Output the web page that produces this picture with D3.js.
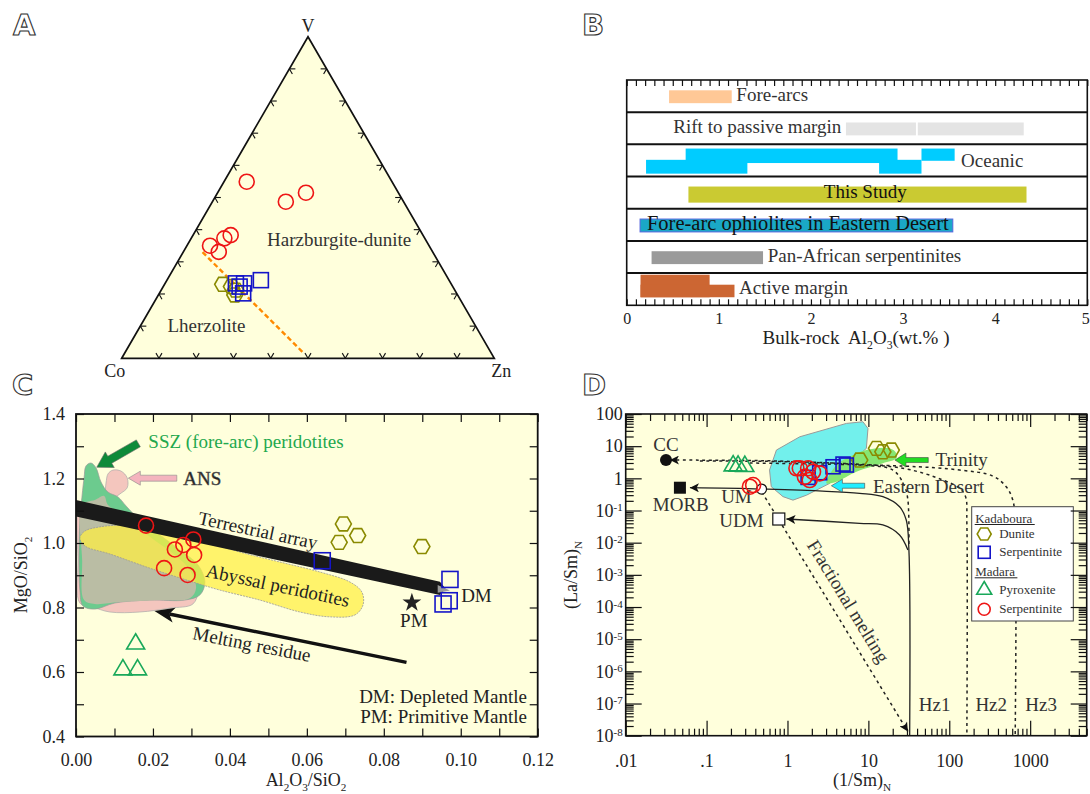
<!DOCTYPE html>
<html>
<head>
<meta charset="utf-8">
<title>Figure</title>
<script src="https://cdn.jsdelivr.net/npm/d3@7/dist/d3.min.js"></script>
<style>
html,body{margin:0;padding:0;background:#fff;}
svg{display:block;}
</style>
</head>
<body>
<svg id="fig" width="1090" height="794" xmlns="http://www.w3.org/2000/svg"></svg>
<script>
// ======================= DATA =======================
// ---- Panel A : ternary Co–V–Zn, values as [Co, V, Zn] (%) ----
const aMadaraSerpentinite = [[39.0,54.9,6.1],[31.6,48.7,19.7],[24.8,51.5,23.7],[51.6,38.3,10.1],[53.8,37.3,8.9],[58.8,35.0,6.2],[57.4,33.1,9.5]];
const aKadabouraSerpentinite = [[50.5,24.3,25.2],[55.5,23.3,21.2],[57.2,22.3,20.5],[57.3,20.2,22.5],[57.7,23.3,19.0]];
const aKadabouraDunite = [[61.4,23.0,15.6],[59.4,22.3,18.3],[59.8,19.7,20.5],[58.8,21.2,20.0]];
const aDivider = [[61.8,33.0,5.2],[50.5,2.0,47.5]];
const aTicks = [10,20,30,40,50,60,70,80,90];
const aFieldLabels = [{text:"Harzburgite-dunite", p:[24.2,34.9,40.9]},{text:"Lherzolite", p:[73.1,8.3,18.6]}];

// ---- Panel B : bulk-rock Al2O3 ranges (wt.%) ----
const bCategories = ["Fore-arcs","Rift to passive margin","Oceanic","This Study","Fore-arc ophiolites in Eastern Desert","Pan-African serpentinites","Active margin"];
const bRanges = [
  {cat:"Fore-arcs", from:0.46, to:1.14, lane:"mid"},
  {cat:"Rift to passive margin", from:2.38, to:3.14, lane:"mid"},
  {cat:"Rift to passive margin", from:3.16, to:4.31, lane:"mid"},
  {cat:"Oceanic", from:0.21, to:1.31, lane:"lower"},
  {cat:"Oceanic", from:2.74, to:3.20, lane:"lower"},
  {cat:"Oceanic", from:0.64, to:2.94, lane:"upper"},
  {cat:"Oceanic", from:3.20, to:3.56, lane:"upperShort"},
  {cat:"This Study", from:0.67, to:4.34, lane:"wide"},
  {cat:"Fore-arc ophiolites in Eastern Desert", from:0.145, to:3.54, lane:"mid"},
  {cat:"Pan-African serpentinites", from:0.27, to:1.48, lane:"mid"},
  {cat:"Active margin", from:0.15, to:0.90, lane:"tall"},
  {cat:"Active margin", from:0.15, to:1.17, lane:"low"}
];
const bLabels = [
  {cat:"Fore-arcs", x:1.19, anchor:"start"},
  {cat:"Rift to passive margin", x:2.33, anchor:"end"},
  {cat:"Oceanic", x:3.63, anchor:"start"},
  {cat:"This Study", x:2.59, anchor:"middle"},
  {cat:"Fore-arc ophiolites in Eastern Desert", x:0.22, anchor:"start"},
  {cat:"Pan-African serpentinites", x:1.53, anchor:"start"},
  {cat:"Active margin", x:1.22, anchor:"start"}
];
const bTickLabels = [0,1,2,3,4,5];

// ---- Panel C : MgO/SiO2 vs Al2O3/SiO2 ----
const cMadaraSerpentinite = [[0.0182,1.054],[0.0305,1.011],[0.0279,0.994],[0.0257,0.980],[0.0307,0.963],[0.0229,0.922],[0.0290,0.901]];
const cMadaraPyroxenite = [[0.0122,0.607],[0.0160,0.607],[0.0155,0.687]];
const cKadabouraDunite = [[0.0695,1.059],[0.0732,1.023],[0.0684,1.002],[0.0899,0.989]];
const cKadabouraSerpentinite = [[0.0640,0.945],[0.0972,0.887],[0.0970,0.821],[0.0954,0.811]];
const cPrimitiveMantle = [0.0873,0.815];
const cFieldSSZ = [[0.0021,1.202],[0.0026,1.239],[0.0039,1.248],[0.0052,1.233],[0.0065,1.189],[0.0083,1.158],[0.0109,1.143],[0.0130,1.115],[0.0166,1.071],[0.0218,1.025],[0.0270,0.978],[0.0317,0.932],[0.0335,0.879],[0.0322,0.839],[0.0283,0.823],[0.0192,0.823],[0.0101,0.814],[0.0049,0.795],[0.0018,0.805],[0.0010,0.854],[0.0010,1.071],[0.0016,1.149]];
const cFieldANS = [[0.0008,1.118],[0.0023,1.133],[0.0055,1.140],[0.0073,1.152],[0.0078,1.186],[0.0083,1.214],[0.0096,1.226],[0.0117,1.223],[0.0133,1.202],[0.0133,1.171],[0.0114,1.152],[0.0094,1.133],[0.0088,1.115],[0.0120,1.087],[0.0192,1.016],[0.0257,0.960],[0.0301,0.910],[0.0317,0.854],[0.0304,0.811],[0.0244,0.798],[0.0166,0.786],[0.0088,0.786],[0.0042,0.802],[0.0010,0.814],[0.0005,0.947]];
const cFieldOverlap = [[0.0016,1.118],[0.0049,1.133],[0.0073,1.146],[0.0083,1.118],[0.0127,1.084],[0.0192,1.019],[0.0257,0.963],[0.0296,0.916],[0.0312,0.860],[0.0296,0.829],[0.0218,0.823],[0.0114,0.817],[0.0049,0.811],[0.0021,0.823],[0.0016,0.947]];
const cFieldAbyssal = [[0.0010,1.016],[0.0023,1.037],[0.0062,1.050],[0.0140,1.056],[0.0218,1.050],[0.0283,1.031],[0.0335,1.006],[0.0426,0.972],[0.0530,0.941],[0.0634,0.910],[0.0712,0.879],[0.0743,0.848],[0.0746,0.808],[0.0725,0.777],[0.0660,0.771],[0.0582,0.786],[0.0478,0.823],[0.0374,0.854],[0.0296,0.882],[0.0192,0.922],[0.0088,0.966],[0.0023,0.991]];
const cTerrestrialArray = [[0,1.133],[0.0946,0.880],[0.0960,0.859],[0.0946,0.839],[0,1.082]];
const cArrayTip = [[0.0940,0.870],[0.0972,0.853],[0.0940,0.846]];
const cMeltingResidue = [[0.0859,0.630],[0.0204,0.789]];
const cArrowSSZ = [[0.0162,1.309],[0.0054,1.235]];
const cArrowANS = [[0.0262,1.201],[0.0136,1.201]];
const cLabels = [
  {text:"SSZ (fore-arc) peridotites", p:[0.0188,1.294], anchor:"start", fill:"#22A84E"},
  {text:"ANS", p:[0.0279,1.180], anchor:"start", ans:true},
  {text:"Terrestrial array", p:[0.0315,1.059], anchor:"start", rot:12},
  {text:"Abyssal peridotites", p:[0.0335,0.896], anchor:"start", rot:12},
  {text:"Melting residue", p:[0.0301,0.702], anchor:"start", rot:11},
  {text:"DM", p:[0.1001,0.817], anchor:"start"},
  {text:"PM", p:[0.0878,0.740], anchor:"middle"},
  {text:"DM: Depleted Mantle", p:[0.1172,0.503], anchor:"end"},
  {text:"PM: Primitive Mantle", p:[0.1172,0.443], anchor:"end"}
];

// ---- Panel D : (La/Sm)N vs (1/Sm)N ----
const dMadaraSerpentinite = [[1.42,2.05],[1.80,2.05],[2.07,1.60],[1.64,1.12],[2.50,1.43],[1.88,0.885],[1.29,2.05],[0.376,0.62],[0.343,0.548]];
const dMadaraPyroxenite = [[0.213,2.45],[0.245,2.41],[0.297,2.35]];
const dKadabouraSerpentinite = [[1.80,1.07],[2.50,1.49],[3.66,2.29],[4.86,2.78],[5.35,2.59]];
const dKadabouraDunite = [[7.81,3.70],[12.6,8.55],[15.1,6.70],[19.2,7.57]];
const dCC = [0.0315,3.70], dMORB = [0.0468,0.511], dUM = [0.478,0.465], dUDM = [0.781,0.0544];
const dFieldEasternDesert = [[0.60,1.81],[0.73,7.57],[1.42,19.6],[5.35,51.0],[8.57,57.3],[9.89,35.7],[9.44,8.55],[5.87,2.92],[3.33,0.70],[1.72,0.30],[1.17,0.21],[0.88,0.27],[0.63,0.55]];
const dFieldTrinity = [[3.03,0.70],[4.03,2.59],[5.87,4.69],[9.44,7.57],[18.3,8.55],[22.2,5.97],[22.2,4.18],[15.1,2.92],[7.11,1.60],[4.03,0.78]];
const dLineToCC = [[0.0352,3.70],[0.803,3.44],[7.81,2.59],[20.1,1.81],[28.1,0.548],[30.8,0.212],[31.7,0.0075]];
const dLineHz12 = [[0.0826,3.44],[1.42,3.21],[26.7,2.05],[83.4,0.885],[134,0.489],[159,0.269],[165,0.041],[165,1e-8]];
const dLineHz23 = [[0.343,2.99],[26.7,2.41],[134,1.81],[345,1.18],[506,0.548],[610,0.212],[653,0.041],[653,1e-8]];
const dLineToMORB = [[0.0622,0.511],[0.478,0.465],[7.81,0.342],[15.1,0.269],[24.3,0.131],[29.4,0.0507],[31.7,0.00593],[32.4,1e-8]];
const dLineToUDM = [[0.97,0.0544],[7.81,0.040],[15.1,0.0355],[24.3,0.0173],[30.8,0.00593]];
const dFractionalMelting = [[0.482,0.376],[30.8,1.35e-8]];
const dArrowTrinity = [[55.0,3.70],[21.3,3.70]];
const dArrowEastern = [[9.0,0.589],[3.49,0.589]];
const dLabels = [
  {text:"CC", p:[0.0315,7.05], anchor:"middle"},
  {text:"MORB", p:[0.048,0.0965], anchor:"middle"},
  {text:"UM", p:[0.234,0.171], anchor:"middle"},
  {text:"UDM", p:[0.27,0.0307], anchor:"middle"},
  {text:"Trinity", p:[67.8,2.41], anchor:"start"},
  {text:"Eastern Desert", p:[11.4,0.349], anchor:"start"},
  {text:"Hz1", p:[65.9,5.93e-8], anchor:"middle"},
  {text:"Hz2", p:[330,5.93e-8], anchor:"middle"},
  {text:"Hz3", p:[1368,5.93e-8], anchor:"middle"}
];
const dXTickLabels = [0.01,0.1,1,10,100,1000];
const dYTickLabels = [1e-8,1e-7,1e-6,1e-5,1e-4,1e-3,1e-2,1e-1,1,10,100];
const legendGroups = [
  {title:"Kadaboura", items:[{sym:"hex", label:"Dunite"},{sym:"square", label:"Serpentinite"}]},
  {title:"Madara", items:[{sym:"tri", label:"Pyroxenite"},{sym:"circle", label:"Serpentinite"}]}
];

// ======================= DRAWING =======================
const SERIF = '"Liberation Serif","Times New Roman",Times,serif';
const INK = "#222";
const CREAM = "#FFFFDC";
const COL = {circle:"#EE1515", square:"#1414C8", hex:"#8A8A00", tri:"#19A85A"};
const svg = d3.select("#fig");

function txt(g, x, y, s, size, o = {}) {
  const t = g.append("text").attr("x", x).attr("y", y).attr("font-family", SERIF)
    .attr("font-size", size).attr("fill", o.fill || INK).attr("text-anchor", o.anchor || "start").text(s);
  if (o.rot != null) t.attr("transform", `rotate(${o.rot},${x},${y})`);
  return t;
}
function rich(g, x, y, parts, size, o = {}) {
  const t = g.append("text").attr("x", x).attr("y", y).attr("font-family", SERIF)
    .attr("font-size", size).attr("fill", o.fill || INK).attr("text-anchor", o.anchor || "middle")
    .style("white-space", "pre");
  let shift = 0;
  parts.forEach(([s, k]) => {
    const target = k === "sub" ? size * 0.25 : k === "sup" ? -size * 0.4 : 0;
    t.append("tspan").attr("dy", target - shift).attr("font-size", k ? size * 0.62 : size).text(s);
    shift = target;
  });
  if (o.rot != null) t.attr("transform", `rotate(${o.rot},${x},${y})`);
  return t;
}
function hexPath(x, y, r) {
  const pts = d3.range(6).map(i => [x + r * Math.cos(i * Math.PI / 3), y + r * Math.sin(i * Math.PI / 3)]);
  return "M" + pts.map(p => p.join(",")).join("L") + "Z";
}
function triPath(x, y, w, h) {
  return `M${x},${y - 2 * h / 3}L${x + w / 2},${y + h / 3}L${x - w / 2},${y + h / 3}Z`;
}
function marker(g, type, x, y, s) {
  const sw = 1.6;
  if (type === "circle") g.append("circle").attr("cx", x).attr("cy", y).attr("r", s / 2).attr("fill", "none").attr("stroke", COL.circle).attr("stroke-width", sw);
  else if (type === "square") g.append("rect").attr("x", x - s / 2).attr("y", y - s / 2).attr("width", s).attr("height", s).attr("fill", "none").attr("stroke", COL.square).attr("stroke-width", sw);
  else if (type === "hex") g.append("path").attr("d", hexPath(x, y, s / 2)).attr("fill", "none").attr("stroke", COL.hex).attr("stroke-width", sw);
  else if (type === "tri") g.append("path").attr("d", triPath(x, y, s, s * 0.85)).attr("fill", "none").attr("stroke", COL.tri).attr("stroke-width", sw);
}
function blockArrow(p0, p1, bodyHalf, headHalf, headLen) {
  const dx = p1[0] - p0[0], dy = p1[1] - p0[1], L = Math.hypot(dx, dy);
  const ux = dx / L, uy = dy / L, nx = -uy, ny = ux;
  const b = [p1[0] - ux * headLen, p1[1] - uy * headLen];
  const pts = [[p0[0] + nx * bodyHalf, p0[1] + ny * bodyHalf], [b[0] + nx * bodyHalf, b[1] + ny * bodyHalf],
    [b[0] + nx * headHalf, b[1] + ny * headHalf], p1, [b[0] - nx * headHalf, b[1] - ny * headHalf],
    [b[0] - nx * bodyHalf, b[1] - ny * bodyHalf], [p0[0] - nx * bodyHalf, p0[1] - ny * bodyHalf]];
  return "M" + pts.map(p => p.join(",")).join("L") + "Z";
}
function styleAxis(g, size) {
  g.select(".domain").remove();
  g.attr("font-family", SERIF).attr("font-size", size);
  g.selectAll(".tick line").attr("stroke", "#111").attr("stroke-width", 1.2);
  g.selectAll(".tick text").attr("fill", INK);
}
function panelLetter(x, y, s) {
  svg.append("text").attr("x", x).attr("y", y).attr("font-family", "'DejaVu Sans',Arial,sans-serif")
    .attr("font-weight", "bold").attr("font-size", 29).attr("fill", "#fff").attr("stroke", "#333").attr("stroke-width", 1.1).text(s);
}
panelLetter(13, 35, "A"); panelLetter(582, 35, "B"); panelLetter(12, 395, "C"); panelLetter(582, 395, "D");

// arrow marker defs
const defs = svg.append("defs");
defs.append("marker").attr("id", "ah").attr("viewBox", "0 0 10 10").attr("refX", 10).attr("refY", 5)
  .attr("markerUnits", "userSpaceOnUse").attr("markerWidth", 10).attr("markerHeight", 9).attr("orient", "auto-start-reverse")
  .append("path").attr("d", "M0,0L10,5L0,10L2.5,5Z").attr("fill", "#111");

// ---------------- Panel A ----------------
(function () {
  const g = svg.append("g");
  const tX = d3.scaleLinear().domain([0, 1]).range([121.7, 494.3]);
  const tY = d3.scaleLinear().domain([0, 1]).range([358.3, 36.7]);
  const tern = p => { const s = p[0] + p[1] + p[2], v = p[1] / s, zn = p[2] / s; return [tX(zn + v / 2), tY(v)]; };
  const Co = tern([100, 0, 0]), V = tern([0, 100, 0]), Zn = tern([0, 0, 100]);
  g.append("path").attr("d", `M${Co}L${V}L${Zn}Z`).attr("fill", CREAM).attr("stroke", "#111").attr("stroke-width", 1.7).attr("stroke-linejoin", "miter");
  const unit = (a, b) => { const dx = b[0] - a[0], dy = b[1] - a[1], l = Math.hypot(dx, dy); return [dx / l, dy / l]; };
  const edges = [
    {p: t => tern([100 - t, 0, t]), dirs: [unit(Co, V), unit(Zn, V)]},
    {p: t => tern([100 - t, t, 0]), dirs: [unit(Co, Zn), unit(V, Zn)]},
    {p: t => tern([0, t, 100 - t]), dirs: [unit(Zn, Co), unit(V, Co)]}
  ];
  const len = 6;
  edges.forEach(e => aTicks.forEach(t => {
    const p = e.p(t);
    e.dirs.forEach(d => g.append("line").attr("x1", p[0]).attr("y1", p[1]).attr("x2", p[0] + d[0] * len).attr("y2", p[1] + d[1] * len)
      .attr("stroke", "#111").attr("stroke-width", 1.1));
  }));
  const d0 = tern(aDivider[0]), d1 = tern(aDivider[1]);
  g.append("line").attr("x1", d0[0]).attr("y1", d0[1]).attr("x2", d1[0]).attr("y2", d1[1])
    .attr("stroke", "#FF8A00").attr("stroke-width", 2.4).attr("stroke-dasharray", "5,3");
  aFieldLabels.forEach(l => { const p = tern(l.p); txt(g, p[0], p[1], l.text, 19, {anchor: "middle", fill: "#333"}); });
  txt(g, V[0], V[1] - 5, "V", 18, {anchor: "middle"});
  txt(g, Co[0] - 7, Co[1] + 19, "Co", 18, {anchor: "middle"});
  txt(g, Zn[0] + 7, Zn[1] + 19, "Zn", 18, {anchor: "middle"});
  aKadabouraDunite.forEach(p => { const q = tern(p); marker(g, "hex", q[0], q[1], 16); });
  aKadabouraSerpentinite.forEach(p => { const q = tern(p); marker(g, "square", q[0], q[1], 15); });
  aMadaraSerpentinite.forEach(p => { const q = tern(p); marker(g, "circle", q[0], q[1], 15); });
})();

// ---------------- Panel B ----------------
(function () {
  const g = svg.append("g");
  const x = d3.scaleLinear().domain([0, 5]).range([626.7, 1087.3]);
  const y = d3.scaleBand().domain(bCategories).range([80, 305.3]).padding(0);
  const bw = y.bandwidth();
  const lanes = {mid: [0.32, 0.72], wide: [0.31, 0.81], upper: [0.13, 0.58], upperShort: [0.13, 0.51], lower: [0.48, 0.91], tall: [0.05, 0.75], low: [0.36, 0.75]};
  const color = {"Fore-arcs": "#FFC896", "Rift to passive margin": "#E4E4E4", "Oceanic": "#00CCFF", "This Study": "#CACA32",
    "Fore-arc ophiolites in Eastern Desert": "#1AA8C6", "Pan-African serpentinites": "#9A9A9A", "Active margin": "#CC6633"};
  g.append("rect").attr("x", x(0)).attr("y", 80).attr("width", x(5) - x(0)).attr("height", 225.3).attr("fill", "#fff");
  g.selectAll("rect.bar").data(bRanges).join("rect").attr("class", "bar")
    .attr("x", d => x(d.from)).attr("width", d => x(d.to) - x(d.from))
    .attr("y", d => y(d.cat) + lanes[d.lane][0] * bw).attr("height", d => (lanes[d.lane][1] - lanes[d.lane][0]) * bw)
    .attr("fill", d => color[d.cat])
    .attr("stroke", d => d.cat === "Fore-arc ophiolites in Eastern Desert" ? "#5566DD" : "none").attr("stroke-width", 1);
  bLabels.forEach(l => {
    const base = y(l.cat) + (l.cat === "Oceanic" ? 0.71 : 0.66) * bw;
    const ed = l.cat.startsWith("Fore-arc o");
    txt(g, x(l.x), base, l.cat, ed ? 20.5 : 19, {anchor: l.anchor, fill: (l.cat === "This Study" || ed) ? "#111" : "#333"});
  });
  bCategories.slice(1).forEach(c => g.append("line").attr("x1", x(0)).attr("x2", x(5)).attr("y1", y(c)).attr("y2", y(c)).attr("stroke", "#111").attr("stroke-width", 2));
  g.append("rect").attr("x", x(0)).attr("y", 80).attr("width", x(5) - x(0)).attr("height", 225.3).attr("fill", "none").attr("stroke", "#111").attr("stroke-width", 1.6);
  const minor = d3.range(0, 51).map(i => i / 10);
  g.append("g").attr("transform", "translate(0,80)").call(d3.axisTop(x).tickValues(minor).tickSize(-6).tickFormat("")).call(a => styleAxis(a, 16));
  g.append("g").attr("transform", "translate(0,305.3)").call(d3.axisBottom(x).tickValues(minor).tickSize(-6).tickFormat("")).call(a => styleAxis(a, 16));
  const lab = g.append("g").attr("transform", "translate(0,305.3)").call(d3.axisBottom(x).tickValues(bTickLabels).tickSize(0).tickPadding(7).tickFormat(d3.format("d"))).call(a => styleAxis(a, 16));
  lab.selectAll(".tick text").filter(d => d === 5).attr("text-anchor", "end").attr("x", 2);
  rich(g, 856, 344, [["Bulk-rock  Al", null], ["2", "sub"], ["O", null], ["3", "sub"], ["(wt.% )", null]], 19, {anchor: "middle"});
})();

// ---------------- Panel C ----------------
(function () {
  const g = svg.append("g");
  const x = d3.scaleLinear().domain([0, 0.12]).range([76, 537.7]);
  const y = d3.scaleLinear().domain([0.4, 1.4]).range([736.5, 414]);
  g.append("rect").attr("x", x(0)).attr("y", y(1.4)).attr("width", x(0.12) - x(0)).attr("height", y(0.4) - y(1.4)).attr("fill", CREAM);
  const area = d3.line().x(d => x(d[0])).y(d => y(d[1])).curve(d3.curveCatmullRomClosed.alpha(0.5));
  const poly = d3.line().x(d => x(d[0])).y(d => y(d[1])).curve(d3.curveLinearClosed);
  g.append("path").attr("d", area(cFieldANS)).attr("fill", "#F4C6BE").attr("stroke", "#aaa").attr("stroke-width", 0.7);
  g.append("path").attr("d", area(cFieldSSZ)).attr("fill", "#6CCB8E").attr("stroke", "#999").attr("stroke-width", 0.7);
  g.append("path").attr("d", area(cFieldOverlap)).attr("fill", "#BABDA4").attr("stroke", "none");
  g.append("path").attr("d", area(cFieldAbyssal)).attr("fill", "#FFEE40").attr("fill-opacity", 0.72).attr("stroke", "#999").attr("stroke-width", 0.8).attr("stroke-dasharray", "2,1");
  g.append("path").attr("d", poly(cTerrestrialArray)).attr("fill", "#1a1a1a");
  g.append("path").attr("d", poly(cArrayTip)).attr("fill", "#9a9a9a");
  // melting residue arrow
  const m0 = [x(cMeltingResidue[0][0]), y(cMeltingResidue[0][1])], m1 = [x(cMeltingResidue[1][0]), y(cMeltingResidue[1][1])];
  const L = Math.hypot(m1[0] - m0[0], m1[1] - m0[1]), ux = (m1[0] - m0[0]) / L, uy = (m1[1] - m0[1]) / L, nx = -uy, ny = ux;
  const hl = 20, hw = 7.5, notch = 5;
  g.append("line").attr("x1", m0[0]).attr("y1", m0[1]).attr("x2", m1[0] - ux * (hl - notch)).attr("y2", m1[1] - uy * (hl - notch)).attr("stroke", "#111").attr("stroke-width", 3.4);
  const bb = [m1[0] - ux * hl, m1[1] - uy * hl], nb = [m1[0] - ux * (hl - notch), m1[1] - uy * (hl - notch)];
  g.append("path").attr("d", `M${m1}L${bb[0] + nx * hw},${bb[1] + ny * hw}L${nb}L${bb[0] - nx * hw},${bb[1] - ny * hw}Z`).attr("fill", "#111");
  // block arrows
  const P = d => [x(d[0]), y(d[1])];
  g.append("path").attr("d", blockArrow(P(cArrowSSZ[0]), P(cArrowSSZ[1]), 4, 9, 15)).attr("fill", "#0E8A3A").attr("stroke", "#666").attr("stroke-width", 0.6);
  g.append("path").attr("d", blockArrow(P(cArrowANS[0]), P(cArrowANS[1]), 3, 7, 12)).attr("fill", "#F4B4BE").attr("stroke", "#888").attr("stroke-width", 0.6);
  cLabels.forEach(l => {
    const t = txt(g, x(l.p[0]), y(l.p[1]), l.text, 19, {anchor: l.anchor, fill: l.fill || INK, rot: l.rot});
    if (l.ans) t.attr("stroke", "#555").attr("stroke-width", 0.5);
  });
  // PM star
  g.append("path").attr("d", d3.symbol(d3.symbolStar, 110)()).attr("transform", `translate(${x(cPrimitiveMantle[0])},${y(cPrimitiveMantle[1])})`).attr("fill", "#222");
  cKadabouraDunite.forEach(p => marker(g, "hex", x(p[0]), y(p[1]), 16));
  cKadabouraSerpentinite.forEach(p => marker(g, "square", x(p[0]), y(p[1]), 16));
  cMadaraSerpentinite.forEach(p => marker(g, "circle", x(p[0]), y(p[1]), 15));
  cMadaraPyroxenite.forEach(p => marker(g, "tri", x(p[0]), y(p[1]), 18));
  g.append("rect").attr("x", x(0)).attr("y", y(1.4)).attr("width", x(0.12) - x(0)).attr("height", y(0.4) - y(1.4)).attr("fill", "none").attr("stroke", "#111").attr("stroke-width", 1.8);
  const xt = d3.range(0, 13).map(i => i / 100), yt = d3.range(4, 15).map(i => i / 10);
  const xf = d => (Math.round(d * 100) % 2 === 0 ? d.toFixed(2) : "");
  const yf = d => (Math.round(d * 10) % 2 === 0 ? d.toFixed(1) : "");
  g.append("g").attr("transform", `translate(0,${y(0.4)})`).call(d3.axisBottom(x).tickValues(xt).tickSize(-8).tickPadding(17).tickFormat(xf)).call(a => styleAxis(a, 18));
  g.append("g").attr("transform", `translate(0,${y(1.4)})`).call(d3.axisTop(x).tickValues(xt).tickSize(-8).tickFormat("")).call(a => styleAxis(a, 18));
  g.append("g").attr("transform", `translate(${x(0)},0)`).call(d3.axisLeft(y).tickValues(yt).tickSize(-8).tickPadding(11).tickFormat(yf)).call(a => styleAxis(a, 18));
  g.append("g").attr("transform", `translate(${x(0.12)},0)`).call(d3.axisRight(y).tickValues(yt).tickSize(-8).tickFormat("")).call(a => styleAxis(a, 18));
  rich(g, 306, 786, [["Al", null], ["2", "sub"], ["O", null], ["3", "sub"], ["/SiO", null], ["2", "sub"]], 18, {anchor: "middle"});
  rich(g, 27, 575, [["MgO/SiO", null], ["2", "sub"]], 18, {anchor: "middle", rot: -90});
})();

// ---------------- Panel D ----------------
(function () {
  const g = svg.append("g");
  const x = d3.scaleLog().domain([0.01, 5000]).range([625.7, 1086.7]);
  const y = d3.scaleLog().domain([1e-8, 100]).range([735.7, 414]);
  g.append("rect").attr("x", x.range()[0]).attr("y", 414).attr("width", x.range()[1] - x.range()[0]).attr("height", 735.7 - 414).attr("fill", CREAM);
  const poly = d3.line().x(d => x(d[0])).y(d => y(d[1])).curve(d3.curveLinearClosed);
  const blob = d3.line().x(d => x(d[0])).y(d => y(d[1])).curve(d3.curveCatmullRomClosed.alpha(0.5));
  g.append("path").attr("d", poly(dFieldEasternDesert)).attr("fill", "#72F0EC").attr("stroke", "#9a9a9a").attr("stroke-width", 1).attr("stroke-linejoin", "round");
  g.append("path").attr("d", blob(dFieldTrinity)).attr("fill", "#86E672").attr("stroke", "none");
  const curve = d3.line().x(d => x(d[0])).y(d => y(d[1])).curve(d3.curveCatmullRom.alpha(0.5));
  const dotted = {stroke: "#222", "stroke-width": 1.5, "stroke-dasharray": "3,3.5", fill: "none"};
  const solid = {stroke: "#222", "stroke-width": 1.3, fill: "none"};
  const applyAttrs = (s, a) => { Object.entries(a).forEach(([k, v]) => s.attr(k, v)); return s; };
  applyAttrs(g.append("path").attr("d", curve(dLineHz12)), dotted);
  applyAttrs(g.append("path").attr("d", curve(dLineHz23)), dotted);
  applyAttrs(g.append("path").attr("d", curve(dLineToCC)), dotted).attr("marker-start", "url(#ah)");
  applyAttrs(g.append("path").attr("d", curve(dLineToMORB)), solid).attr("marker-start", "url(#ah)");
  applyAttrs(g.append("path").attr("d", curve(dLineToUDM)), solid).attr("marker-start", "url(#ah)");
  applyAttrs(g.append("path").attr("d", d3.line().x(d => x(d[0])).y(d => y(d[1]))(dFractionalMelting)), dotted).attr("marker-end", "url(#ah)");
  const P = d => [x(d[0]), y(d[1])];
  g.append("path").attr("d", blockArrow(P(dArrowTrinity[0]), P(dArrowTrinity[1]), 2.5, 7, 11)).attr("fill", "#22DD22").attr("stroke", "#444").attr("stroke-width", 0.6);
  g.append("path").attr("d", blockArrow(P(dArrowEastern[0]), P(dArrowEastern[1]), 2.5, 6.5, 11)).attr("fill", "#22EEFF").attr("stroke", "#444").attr("stroke-width", 0.6);
  dLabels.forEach(l => txt(g, x(l.p[0]), y(l.p[1]), l.text, 19, {anchor: l.anchor, fill: "#333"}));
  // fractional melting label along its line
  const f0 = P(dFractionalMelting[0]), f1 = P(dFractionalMelting[1]);
  const ang = Math.atan2(f1[1] - f0[1], f1[0] - f0[0]) * 180 / Math.PI;
  txt(g, x(4.82), y(1.19e-4), "Fractional melting", 19, {anchor: "middle", fill: "#333", rot: ang});
  // reference points
  g.append("circle").attr("cx", x(dCC[0])).attr("cy", y(dCC[1])).attr("r", 6).attr("fill", "#111");
  g.append("rect").attr("x", x(dMORB[0]) - 6).attr("y", y(dMORB[1]) - 6).attr("width", 12).attr("height", 12).attr("fill", "#111");
  g.append("circle").attr("cx", x(dUM[0])).attr("cy", y(dUM[1])).attr("r", 5).attr("fill", "#fff").attr("stroke", "#111").attr("stroke-width", 1.2);
  g.append("rect").attr("x", x(dUDM[0]) - 6).attr("y", y(dUDM[1]) - 6).attr("width", 12).attr("height", 12).attr("fill", "#fff").attr("stroke", "#111").attr("stroke-width", 1.2);
  dMadaraPyroxenite.forEach(p => marker(g, "tri", x(p[0]), y(p[1]), 18));
  dKadabouraDunite.forEach(p => marker(g, "hex", x(p[0]), y(p[1]), 16));
  dKadabouraSerpentinite.forEach(p => marker(g, "square", x(p[0]), y(p[1]), 14));
  dMadaraSerpentinite.forEach(p => marker(g, "circle", x(p[0]), y(p[1]), 15));
  // legend
  const lg = g.append("g").attr("transform", "translate(971.7,506.7)");
  lg.append("rect").attr("width", 101.6).attr("height", 114.3).attr("fill", "#fff").attr("stroke", "#444").attr("stroke-width", 1);
  const titleBase = [16, 69.3];
  const itemCenters = [[27.3, 45.6], [83.3, 102.6]];
  legendGroups.forEach((grp, gi) => {
    const tb = titleBase[gi];
    const t = txt(lg, 3.5, tb, grp.title, 13, {fill: "#333"});
    const w = t.node().getComputedTextLength();
    lg.append("line").attr("x1", 3).attr("x2", 3 + w + 3).attr("y1", tb + 1.8).attr("y2", tb + 1.8).attr("stroke", "#222").attr("stroke-width", 1);
    grp.items.forEach((it, ii) => {
      const cy = itemCenters[gi][ii];
      marker(lg, it.sym, 12.5, cy, it.sym === "hex" ? 14 : it.sym === "tri" ? 15 : 12);
      txt(lg, 27.5, cy + 4, it.label, 13, {fill: "#333"});
    });
  });
  // frame & axes
  g.append("rect").attr("x", x.range()[0]).attr("y", 414).attr("width", x.range()[1] - x.range()[0]).attr("height", 735.7 - 414).attr("fill", "none").attr("stroke", "#111").attr("stroke-width", 1.6);
  const xMinor = [], yMinor = [];
  dXTickLabels.forEach(m => d3.range(2, 10).forEach(k => { const v = m * k; if (v <= 5000) xMinor.push(v); }));
  dYTickLabels.slice(0, -1).forEach(m => d3.range(2, 10).forEach(k => yMinor.push(m * k)));
  const xFmt = d => (d < 1 ? String(d).replace(/^0\./, ".") : String(d));
  g.append("g").attr("transform", "translate(0,735.7)").call(d3.axisBottom(x).tickValues(xMinor).tickSize(-7).tickFormat("")).call(a => styleAxis(a, 18));
  g.append("g").attr("transform", "translate(0,735.7)").call(d3.axisBottom(x).tickValues(dXTickLabels).tickSize(-15).tickPadding(19).tickFormat(xFmt)).call(a => styleAxis(a, 18));
  g.append("g").attr("transform", "translate(0,414)").call(d3.axisTop(x).tickValues(xMinor).tickSize(-7).tickFormat("")).call(a => styleAxis(a, 18));
  g.append("g").attr("transform", "translate(0,414)").call(d3.axisTop(x).tickValues(dXTickLabels).tickSize(-13).tickFormat("")).call(a => styleAxis(a, 18));
  g.append("g").attr("transform", `translate(${x.range()[0]},0)`).call(d3.axisLeft(y).tickValues(yMinor).tickSize(-8).tickFormat("")).call(a => styleAxis(a, 18));
  const yl = g.append("g").attr("transform", `translate(${x.range()[0]},0)`).call(d3.axisLeft(y).tickValues(dYTickLabels).tickSize(-16).tickPadding(3).tickFormat(d => d)).call(a => styleAxis(a, 18));
  yl.selectAll(".tick text").each(function (d) {
    const e = Math.round(Math.log10(d));
    const t = d3.select(this).text("");
    if (e >= 0) t.text(String(Math.round(d)));
    else { t.append("tspan").text("10"); t.append("tspan").attr("dy", "-0.5em").attr("font-size", "11px").text(String(e)); }
  });
  g.append("g").attr("transform", `translate(${x.range()[1]},0)`).call(d3.axisRight(y).tickValues(yMinor).tickSize(-8).tickFormat("")).call(a => styleAxis(a, 18));
  g.append("g").attr("transform", `translate(${x.range()[1]},0)`).call(d3.axisRight(y).tickValues(dYTickLabels).tickSize(-16).tickFormat("")).call(a => styleAxis(a, 18));
  rich(g, 862, 786, [["(1/Sm)", null], ["N", "sub"]], 18, {anchor: "middle"});
  rich(g, 577, 575, [["(La/Sm)", null], ["N", "sub"]], 18, {anchor: "middle", rot: -90});
})();
</script>
</body>
</html>
